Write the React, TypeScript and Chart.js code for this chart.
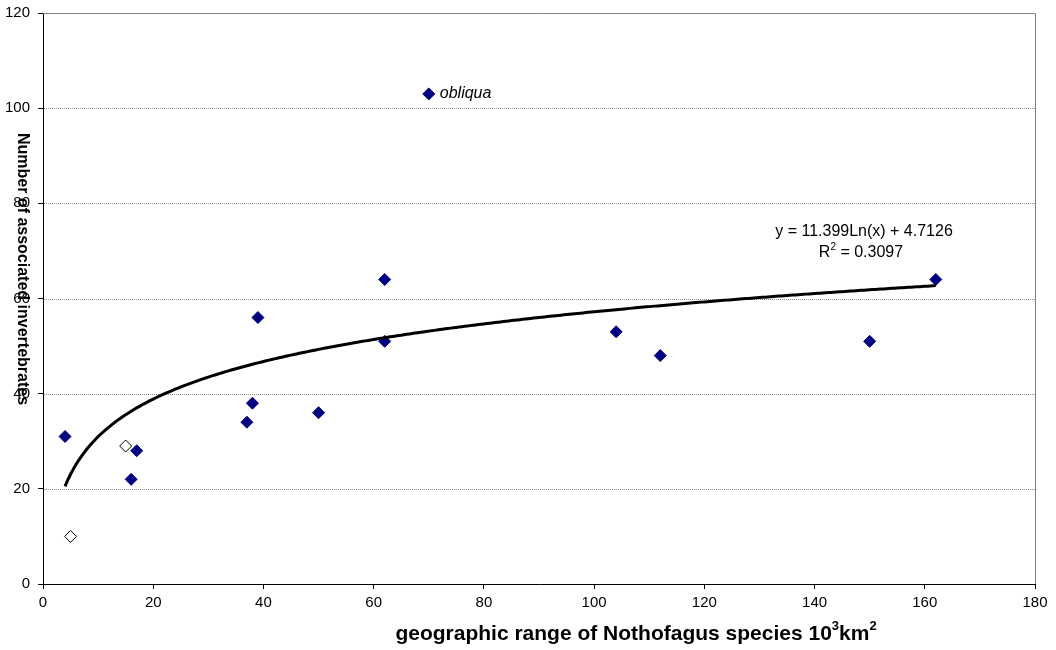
import React, { useEffect, useRef } from "react";
import { Chart, registerables } from "chart.js";

Chart.register(...registerables);

// ---- data ----
const filledX = [4, 16, 17, 37, 38, 39, 50, 62, 62, 70, 104, 112, 150, 162];
const filledY = [31, 22, 28, 34, 38, 56, 36, 64, 51, 103, 53, 48, 51, 64];
const hollowX = [5, 15];
const hollowY = [10, 29];

const X_MIN = 0;
const X_MAX = 180;
const X_STEP = 20;
const Y_MIN = 0;
const Y_MAX = 120;
const Y_STEP = 20;

// logarithmic trendline as printed on the chart
const TREND_A = 11.399;
const TREND_B = 4.7126;
const TREND_X_START = 4;
const TREND_X_END = 162;
const TREND_EQUATION = "y = 11.399Ln(x) + 4.7126";
const TREND_R2 = "0.3097";

const LABEL_X = 70;
const LABEL_Y = 103;
const LABEL_TEXT = "obliqua";

const X_TITLE_MAIN = "geographic range of Nothofagus species 10";
const Y_TITLE = "Number of associated invertebrates";

const FONT = "'Liberation Sans', Arial, sans-serif";

type Part = { t: string; sup?: boolean };

function drawRich(
  ctx: CanvasRenderingContext2D,
  parts: Part[],
  cx: number,
  cy: number,
  size: number,
  weight: string
) {
  const supSize = Math.round(size * 0.62);
  const widths = parts.map((p) => {
    ctx.font = `${weight} ${p.sup ? supSize : size}px ${FONT}`;
    return ctx.measureText(p.t).width;
  });
  const total = widths.reduce((a, b) => a + b, 0);
  let x = cx - total / 2;
  ctx.textAlign = "left";
  ctx.textBaseline = "middle";
  parts.forEach((p, i) => {
    ctx.font = `${weight} ${p.sup ? supSize : size}px ${FONT}`;
    ctx.fillText(p.t, x, p.sup ? cy - size * 0.35 : cy);
    x += widths[i];
  });
}

const overlayPlugin = {
  id: "overlay",
  beforeDatasetsDraw(chart: any) {
    const { ctx, chartArea, scales } = chart;
    const ys = scales.y;
    ctx.save();
    ctx.strokeStyle = "#8a8a8a";
    ctx.lineWidth = 1;
    ctx.setLineDash([1, 1]);
    for (let v = Y_MIN + Y_STEP; v < Y_MAX; v += Y_STEP) {
      const y = Math.round(ys.getPixelForValue(v)) + 0.5;
      ctx.beginPath();
      ctx.moveTo(chartArea.left + 1, y);
      ctx.lineTo(chartArea.right, y);
      ctx.stroke();
    }
    ctx.setLineDash([]);
    ctx.strokeStyle = "#808080";
    const top = Math.round(chartArea.top) + 0.5;
    const right = Math.round(chartArea.right) + 0.5;
    ctx.beginPath();
    ctx.moveTo(chartArea.left, top);
    ctx.lineTo(right, top);
    ctx.lineTo(right, chartArea.bottom);
    ctx.stroke();
    ctx.restore();
  },
  afterDraw(chart: any) {
    const { ctx, scales } = chart;
    const xs = scales.x;
    const ys = scales.y;
    ctx.save();
    ctx.fillStyle = "#000";

    // point label
    ctx.font = `italic 16px ${FONT}`;
    ctx.textAlign = "left";
    ctx.textBaseline = "middle";
    ctx.fillText(LABEL_TEXT, xs.getPixelForValue(LABEL_X) + 11, ys.getPixelForValue(LABEL_Y));

    // trendline equation
    ctx.font = `16px ${FONT}`;
    ctx.textAlign = "center";
    ctx.fillText(TREND_EQUATION, 864, 232);
    drawRich(ctx, [{ t: "R" }, { t: "2", sup: true }, { t: " = " + TREND_R2 }], 861, 253, 16, "normal");

    // x-axis title
    drawRich(
      ctx,
      [{ t: X_TITLE_MAIN }, { t: "3", sup: true }, { t: "km" }, { t: "2", sup: true }],
      636,
      634,
      21,
      "bold"
    );

    // y-axis title (rotated clockwise)
    ctx.save();
    ctx.translate(22, 269);
    ctx.rotate(Math.PI / 2);
    ctx.font = `bold 16px ${FONT}`;
    ctx.textAlign = "center";
    ctx.textBaseline = "middle";
    ctx.fillText(Y_TITLE, 0, 0);
    ctx.restore();

    ctx.restore();
  },
};

export default function App() {
  const ref = useRef<HTMLCanvasElement>(null);

  useEffect(() => {
    document.body.style.margin = "0";
    const canvas = ref.current!;
    const trend: { x: number; y: number }[] = [];
    for (let x = TREND_X_START; x <= TREND_X_END; x += 0.5) {
      trend.push({ x, y: TREND_A * Math.log(x) + TREND_B });
    }

    const chart = new Chart(canvas, {
      type: "scatter",
      data: {
        datasets: [
          {
            type: "line",
            data: trend,
            borderColor: "#000",
            borderWidth: 3,
            pointRadius: 0,
            fill: false,
            tension: 0,
          } as any,
          {
            data: filledX.map((x, i) => ({ x, y: filledY[i] })),
            pointStyle: "rectRot",
            pointRadius: 6,
            backgroundColor: "#000080",
            borderColor: "#000080",
            borderWidth: 1,
          },
          {
            data: hollowX.map((x, i) => ({ x, y: hollowY[i] })),
            pointStyle: "rectRot",
            pointRadius: 6,
            backgroundColor: "#ffffff",
            borderColor: "#000000",
            borderWidth: 1,
          },
        ],
      },
      options: {
        animation: false,
        responsive: false,
        events: [],
        layout: { padding: { left: 0, top: 13, right: 21, bottom: 0 } },
        plugins: { legend: { display: false }, tooltip: { enabled: false } },
        scales: {
          x: {
            type: "linear",
            min: X_MIN,
            max: X_MAX,
            ticks: { stepSize: X_STEP, color: "#000", font: { family: FONT, size: 15 }, padding: 5, maxRotation: 0 },
            grid: { drawOnChartArea: false, drawTicks: true, tickLength: 5, color: "#000", tickColor: "#000" },
            border: { color: "#000", width: 1 },
            afterFit: (s: any) => {
              s.height = 66;
              s.paddingLeft = 0;
              s.paddingRight = 0;
            },
          },
          y: {
            type: "linear",
            min: Y_MIN,
            max: Y_MAX,
            ticks: { stepSize: Y_STEP, color: "#000", font: { family: FONT, size: 15 }, padding: 8 },
            grid: { drawOnChartArea: false, drawTicks: true, tickLength: 5, color: "#000", tickColor: "#000" },
            border: { color: "#000", width: 1 },
            afterFit: (s: any) => {
              s.width = 43;
              s.paddingTop = 0;
              s.paddingBottom = 0;
            },
          },
        },
      },
      plugins: [overlayPlugin],
    });
    return () => chart.destroy();
  }, []);

  return (
    <div style={{ position: "fixed", left: 0, top: 0, width: 1056, height: 650, background: "#fff" }}>
      <canvas ref={ref} width={1056} height={650} />
    </div>
  );
}
